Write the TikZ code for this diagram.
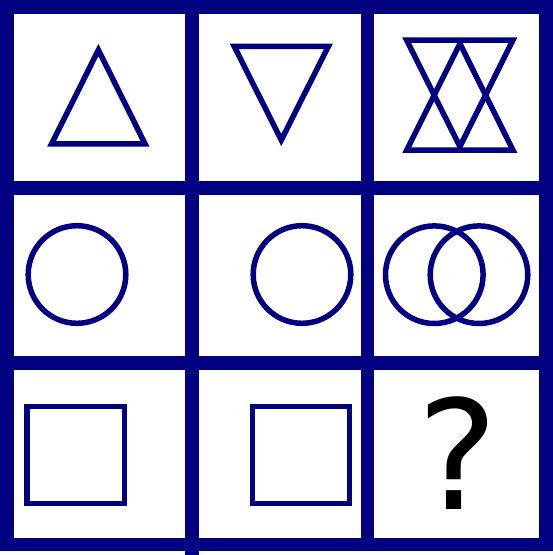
\documentclass[tikz,border=0pt]{standalone}
\usepackage{fontspec}
\newfontfamily\qfont{DejaVu Sans}
\definecolor{navy}{HTML}{000080}

\begin{document}
\begin{tikzpicture}[
      x=1pt,y=-1pt,
      gridline/.style={draw=navy,line width=13.5pt},
      shapeline/.style={draw=navy,line width=5.5pt},
      qmark/.style={font=\qfont\fontsize{152}{152}\selectfont,anchor=base,inner sep=0pt,text=black}
    ]
    \useasboundingbox (0,0) rectangle (553,555);
    \fill[white] (0,0) rectangle (553,555);
    % frame and dividers
    \draw[gridline] (7,7) rectangle (546,544.5);
    \draw[gridline] (192,0) -- (192,555);
    \draw[gridline] (367.5,0) -- (367.5,544.5);
    \draw[gridline] (0,188) -- (553,188);
    \draw[gridline] (0,363) -- (553,363);
    % row 1: triangles
    \draw[shapeline] (51.6,143.9) -- (98.4,50) -- (145.1,143.9) -- cycle;
    \draw[shapeline] (234.2,46.3) -- (328.4,46.3) -- (281.3,140) -- cycle;
    \draw[shapeline] (406.6,150.2) -- (459.9,43.6) -- (513,150.2) -- cycle;
    \draw[shapeline] (406.6,40) -- (513,40) -- (459.9,146.6) -- cycle;
    % row 2: circles
    \draw[shapeline] (77,274.5) circle (48.8);
    \draw[shapeline] (302,274.5) circle (48.8);
    \draw[shapeline] (434.3,274.7) circle (48.8);
    \draw[shapeline] (479,274.7) circle (48.8);
    % row 3: squares and the question
    \draw[shapeline] (27.2,406.3) rectangle (124.3,503.7);
    \draw[shapeline] (252.5,406.3) rectangle (349.5,503.7);
    \node[qmark] (question) at (458,509.3) {?};
  \end{tikzpicture}
\end{document}
